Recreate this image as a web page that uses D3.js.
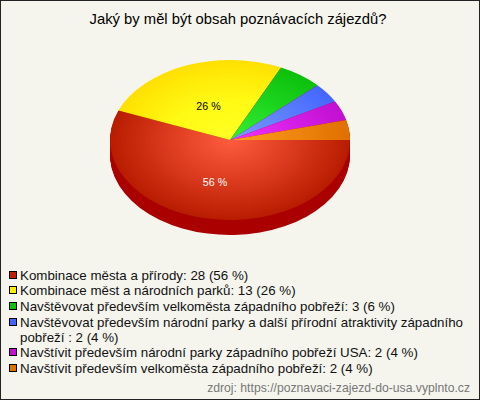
<!DOCTYPE html>
<html><head><meta charset="utf-8">
<script src="https://cdn.jsdelivr.net/npm/d3@7"></script>
<style>html,body{margin:0;padding:0;background:#fff}svg{display:block}text{font-family:"Liberation Sans",Arial,sans-serif}</style>
</head><body><div id="c"></div>
<script>
const title = "Jaký by měl být obsah poznávacích zájezdů?";
const categories = ["Kombinace města a přírody","Kombinace měst a národních parků","Navštěvovat především velkoměsta západního pobřeží","Navštěvovat především národní parky a další přírodní atraktivity západního pobřeží ","Navštívit především národní parky západního pobřeží USA","Navštívit především velkoměsta západního pobřeží"];
const values = [28,13,3,2,2,2];
const percents = [56,26,6,4,4,4];
const colorsOuter = ["#b81c00","#ffe000","#0cc00c","#4466ff","#c010d0","#e07000"];
const colorsInner = ["#ff5c3e","#ffff22","#33f033","#7a9cff","#f033ff","#ffa020"];
const colorsMid = ["#dd3c1f","#fffa14","#20d820","#5f81ff","#d820e8","#f08810"];
const legendColors = ["#c02000","#ffee00","#10c010","#4466ff","#c010d0","#e07000"];
const sideColor = "#aa0000";
const source = "zdroj: https://poznavaci-zajezd-do-usa.vyplnto.cz";
const W=480,H=400,cx=230,cy=140,rx=120,ry=80,depth=15;
const svg=d3.select("#c").append("svg").attr("width",W).attr("height",H);
svg.append("rect").attr("x",.5).attr("y",.5).attr("width",W-1).attr("height",H-1).attr("fill","#f5f5ee").attr("stroke","#222");
const defs=svg.append("defs");
values.forEach((v,i)=>{
  const g=defs.append("radialGradient").attr("id","g"+i).attr("gradientUnits","userSpaceOnUse").attr("cx",0).attr("cy",0).attr("r",rx);
  g.append("stop").attr("offset",0).attr("stop-color",colorsInner[i]);
  g.append("stop").attr("offset",.5).attr("stop-color",colorsMid[i]);
  g.append("stop").attr("offset",1).attr("stop-color",colorsOuter[i]);
});
svg.append("text").attr("x",238).attr("y",24).attr("text-anchor","middle").attr("font-size",14.8).attr("fill","#000").text(title);
const pie=d3.pie().sort(null).startAngle(Math.PI/2).endAngle(Math.PI*2.5)(values);
const arc=d3.arc().innerRadius(0).outerRadius(rx);
const fy=ry/rx;
d3.range(depth,0,-1).forEach(d=>{
  svg.append("g").attr("transform",`translate(${cx},${cy+d}) scale(1,${fy})`)
   .selectAll("path").data(pie).join("path").attr("d",arc).attr("fill",sideColor);
});
svg.append("g").attr("transform",`translate(${cx},${cy}) scale(1,${fy})`)
  .selectAll("path").data(pie).join("path").attr("d",arc).attr("fill",(d,i)=>`url(#g${i})`);
pie.forEach((d,i)=>{
  if(percents[i]<10)return;
  svg.append("text").attr("x",i==0?215:208.5).attr("y",i==0?186:110).attr("text-anchor","middle").attr("font-size",10.67)
    .attr("fill",i==0?"#fff":"#000").text(percents[i]+" %");
});
const ys=[274.5,290,306,321.5,352,367.5];
categories.forEach((c,i)=>{
  svg.append("rect").attr("x",9.5).attr("y",Math.round(ys[i]-4)+.5).attr("width",7).attr("height",7).attr("fill",legendColors[i]).attr("stroke","#000");
  const full=`${c}: ${values[i]} (${percents[i]} %)`;
  const t=svg.append("text").attr("x",20).attr("font-size",13.33).attr("fill","#111");
  if(i===3){
    const cut=full.indexOf("pobřeží :");
    t.append("tspan").attr("x",20).attr("y",ys[i]+5).text(full.slice(0,cut).trim());
    t.append("tspan").attr("x",20).attr("y",ys[i]+20.5).text(full.slice(cut));
  } else t.attr("y",ys[i]+5).text(full);
});
svg.append("text").attr("x",470).attr("y",392).attr("text-anchor","end").attr("font-size",12.2).attr("fill","#777").text(source);
</script></body></html>
